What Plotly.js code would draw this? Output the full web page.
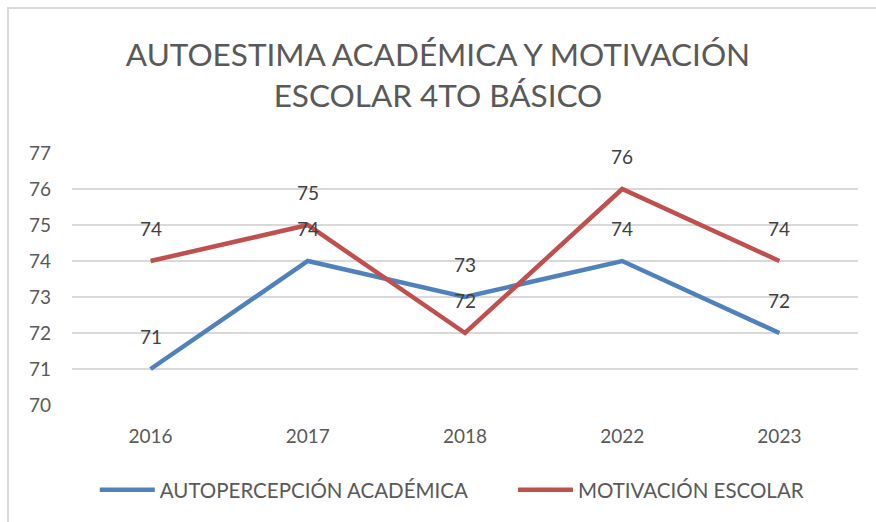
<!DOCTYPE html>
<html>
<head>
<meta charset="utf-8">
<script src="https://cdn.plot.ly/plotly-3.0.1.min.js"></script>
<style>
html,body{margin:0;padding:0;background:#fff;}
#frame{position:absolute;left:7px;top:7px;width:900px;height:600px;border-left:2px solid #d9d9d9;border-top:2px solid #d9d9d9;}
#chart{position:absolute;left:0;top:0;width:876px;height:522px;}
</style>
</head>
<body>
<div id="frame"></div>
<div id="chart"></div>
<script>
var categories = ["2016", "2017", "2018", "2022", "2023"];
var autopercepcion = [71, 74, 73, 74, 72];
var motivacion = [74, 75, 72, 76, 74];
var yTicks = [70, 71, 72, 73, 74, 75, 76, 77];
var seriesNames = ["AUTOPERCEPCIÓN ACADÉMICA", "MOTIVACIÓN ESCOLAR"];
var colors = ["#4F81BD", "#C0504D"];

var font = "Lato, 'Open Sans', sans-serif";
var traces = [
  {x: categories, y: autopercepcion, name: seriesNames[0], type: "scatter", mode: "lines",
   line: {color: colors[0], width: 4.5}, legend: "legend"},
  {x: categories, y: motivacion, name: seriesNames[1], type: "scatter", mode: "lines",
   line: {color: colors[1], width: 4.5}, legend: "legend2"}
];

var annotations = [];
[autopercepcion, motivacion].forEach(function(series){
  series.forEach(function(v, i){
    annotations.push({x: i, y: v, xref: "x", yref: "y", text: String(v),
      showarrow: false, yshift: 33, font: {family: font, size: 19, color: "#404040"}});
  });
});

var legendFont = {family: font, size: 20.5, color: "#595959"};
var layout = {
  width: 876, height: 522,
  paper_bgcolor: "rgba(0,0,0,0)", plot_bgcolor: "rgba(0,0,0,0)",
  margin: {l: 72, r: 18, t: 153, b: 117},
  title: {text: "AUTOESTIMA ACADÉMICA Y MOTIVACIÓN<br>ESCOLAR 4TO BÁSICO", x: 0.5, xanchor: "center",
    y: 0.873, yanchor: "middle", font: {family: font, size: 31.5, color: "#595959"}},
  showlegend: true,
  legend: {orientation: "h", x: 0.029, xanchor: "left", y: -0.337, yanchor: "middle",
    font: legendFont, bgcolor: "rgba(0,0,0,0)", itemwidth: 55},
  legend2: {orientation: "h", x: 0.561, xanchor: "left", y: -0.337, yanchor: "middle",
    font: legendFont, bgcolor: "rgba(0,0,0,0)", itemwidth: 55},
  xaxis: {type: "category", range: [-0.5, categories.length - 0.5], showgrid: false, zeroline: false,
    showline: false, ticks: "", ticklabelstandoff: 18,
    tickfont: {family: font, size: 19, color: "#595959"}, fixedrange: true},
  yaxis: {range: [70, 77], tickvals: yTicks, showgrid: true, gridcolor: "#d9d9d9", gridwidth: 1.5,
    zeroline: false, showline: false, ticks: "", ticklabelstandoff: 20,
    tickfont: {family: font, size: 19, color: "#595959"}, fixedrange: true},
  annotations: annotations
};

Plotly.newPlot("chart", traces, layout, {displayModeBar: false, staticPlot: true});
</script>
</body>
</html>
